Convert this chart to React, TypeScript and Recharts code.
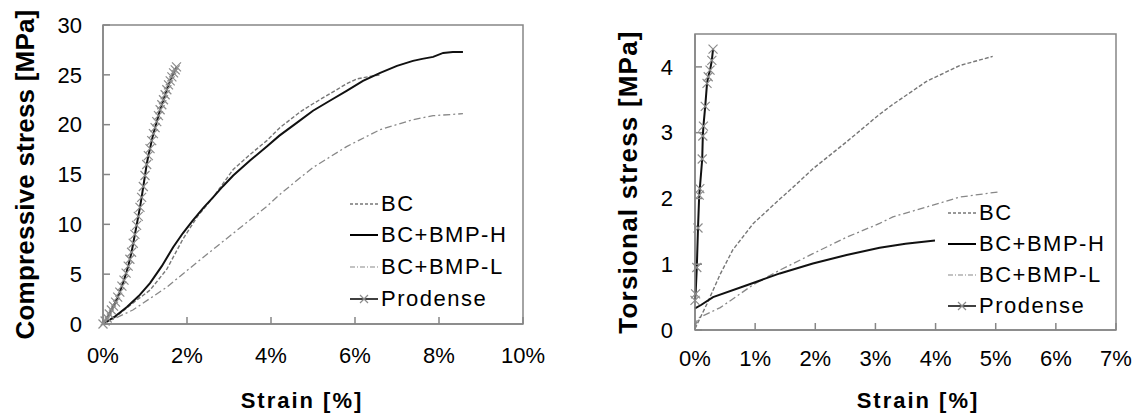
import { LineChart, Line, XAxis, YAxis, ReferenceArea, Legend } from "recharts";

const FONT = "'Liberation Sans', Arial, sans-serif";
const AXIS = "#868686";

// ---- compressive test: [strain %, stress MPa]
const compBC = [
  [0, 0], [0.3, 0.7], [0.71, 2.1], [1.12, 3.4], [1.52, 5.5], [1.9, 8.5], [2.25, 10.8],
  [2.62, 12.7], [3.1, 15.5], [3.5, 17.0], [3.9, 18.4], [4.21, 19.7], [4.7, 21.3],
  [5.0, 22.1], [5.4, 23.1], [5.8, 24.1], [6.05, 24.6], [6.3, 24.8], [6.6, 25.0],
];
const compBMPH = [
  [0, 0], [0.3, 0.8], [0.57, 1.7], [0.85, 2.8], [1.12, 4.1], [1.4, 5.8], [1.67, 7.7],
  [1.9, 9.1], [2.14, 10.4], [2.4, 11.7], [2.62, 12.7], [2.85, 13.8], [3.1, 14.9],
  [3.5, 16.4], [3.9, 17.8], [4.2, 18.9], [4.62, 20.2], [5.0, 21.4], [5.4, 22.4],
  [5.8, 23.4], [6.19, 24.4], [6.6, 25.2], [7.0, 25.9], [7.38, 26.4], [7.6, 26.6],
  [7.86, 26.8], [8.1, 27.2], [8.33, 27.3], [8.57, 27.3],
];
const compBMPL = [
  [0, 0], [0.71, 1.4], [1.52, 3.7], [2.3, 6.4], [3.1, 9.1], [3.9, 11.8], [4.21, 13.0],
  [4.7, 14.7], [5.0, 15.7], [5.8, 17.8], [6.6, 19.5], [7.38, 20.5], [7.86, 20.9], [8.57, 21.1],
];
const compProdense = [
  [0, 0], [0.05, 0.3], [0.1, 0.6], [0.15, 1.0], [0.2, 1.4], [0.25, 1.8], [0.3, 2.2],
  [0.35, 2.7], [0.4, 3.2], [0.45, 3.8], [0.5, 4.4], [0.55, 5.1], [0.6, 5.8], [0.64, 6.5],
  [0.68, 7.2], [0.72, 8.1], [0.76, 9.0], [0.8, 9.9], [0.84, 10.8], [0.88, 11.7],
  [0.92, 12.7], [0.96, 13.8], [1.0, 14.9], [1.04, 16.0], [1.08, 16.9], [1.12, 17.6],
  [1.16, 18.4], [1.2, 19.1], [1.24, 19.7], [1.28, 20.3], [1.32, 20.9], [1.36, 21.5],
  [1.4, 22.0], [1.44, 22.5], [1.48, 23.0], [1.52, 23.5], [1.56, 24.0], [1.6, 24.4],
  [1.64, 24.8], [1.68, 25.2], [1.72, 25.5], [1.75, 25.8],
];

// ---- torsional test: [strain %, stress MPa]
const torsBC = [
  [0, 0.02], [0.2, 0.4], [0.42, 0.85], [0.63, 1.22], [0.97, 1.62], [1.41, 1.99],
  [1.69, 2.22], [1.96, 2.45], [2.52, 2.86], [3.07, 3.28], [3.29, 3.43], [3.85, 3.78],
  [4.4, 4.02], [4.95, 4.16],
];
const torsBMPH = [
  [0, 0.33], [0.1, 0.38], [0.3, 0.5], [0.86, 0.68], [1.41, 0.86], [1.96, 1.01],
  [2.52, 1.14], [3.07, 1.25], [3.5, 1.31], [3.99, 1.36],
];
const torsBMPL = [
  [0, 0.05], [0.05, 0.18], [0.42, 0.34], [0.97, 0.69], [1.41, 0.91], [1.96, 1.16],
  [2.52, 1.41], [3.07, 1.62], [3.29, 1.72], [3.85, 1.87], [4.4, 2.02], [5.05, 2.1],
];
const torsProdense = [
  [0, 0.45], [0.01, 0.55], [0.03, 0.95], [0.05, 1.55], [0.07, 2.05], [0.08, 2.15],
  [0.12, 2.6], [0.13, 2.95], [0.14, 3.1], [0.17, 3.4], [0.2, 3.75], [0.22, 3.85],
  [0.25, 3.95], [0.28, 4.1], [0.3, 4.27],
];

const SERIES_NAMES = ["BC", "BC+BMP-H", "BC+BMP-L", "Prodense"];
const compXTicks = [0, 2, 4, 6, 8, 10];
const compYTicks = [0, 5, 10, 15, 20, 25, 30];
const torsXTicks = [0, 1, 2, 3, 4, 5, 6, 7];
const torsYTicks = [0, 1, 2, 3, 4];

const toPts = (rows: number[][]) => rows.map(([x, y]) => ({ x, y }));

const tickStyle = { fontSize: 22, fill: "#000", fontFamily: FONT };
const lineStyle = { stroke: AXIS, strokeWidth: 1.5 };

const xMark = (props: any) => {
  const { cx, cy, index } = props;
  const s = 4.5;
  return (
    <path
      key={`m${index}`}
      d={`M${cx - s},${cy - s}L${cx + s},${cy + s}M${cx - s},${cy + s}L${cx + s},${cy - s}`}
      stroke="#8c8c8c"
      strokeWidth={1.2}
      fill="none"
    />
  );
};

function LegendIcon({ i }: { i: number }) {
  if (i === 0) return <line x1={0} y1={10} x2={28} y2={10} stroke="#777" strokeWidth={1.3} strokeDasharray="3 2" />;
  if (i === 1) return <line x1={0} y1={10} x2={28} y2={10} stroke="#000" strokeWidth={2} />;
  if (i === 2) return <line x1={0} y1={10} x2={28} y2={10} stroke="#888" strokeWidth={1.2} strokeDasharray="5 2 1 2" />;
  return (
    <g>
      <line x1={0} y1={10} x2={28} y2={10} stroke="#000" strokeWidth={1.5} />
      <path d="M10,6L18,14M10,14L18,6" stroke="#8c8c8c" strokeWidth={1.2} />
    </g>
  );
}

function LegendBox({ row }: { row: number }) {
  return (
    <div style={{ fontFamily: FONT, fontSize: 22, letterSpacing: 1.5, color: "#000" }}>
      {SERIES_NAMES.map((n, i) => (
        <div key={n} style={{ display: "flex", alignItems: "center", height: row, whiteSpace: "nowrap" }}>
          <svg width={30} height={20} style={{ marginRight: 1 }}>
            <LegendIcon i={i} />
          </svg>
          <span>{n}</span>
        </div>
      ))}
    </div>
  );
}

const yTitle = (text: string, cxOff: number, size: number, spacing: number) => (props: any) => {
  const vb = props.viewBox;
  const cx = vb.x + cxOff;
  const cy = vb.y + vb.height / 2;
  return (
    <text
      x={cx}
      y={cy}
      transform={`rotate(-90, ${cx}, ${cy})`}
      textAnchor="middle"
      dominantBaseline="central"
      fontFamily={FONT}
      fontSize={size}
      fontWeight="bold"
      letterSpacing={spacing}
      fill="#000"
    >
      {text}
    </text>
  );
};

const xTitle = (text: string, cxOff: number, baseOff: number) => (props: any) => {
  const vb = props.viewBox;
  return (
    <text
      x={vb.x + cxOff}
      y={vb.y + baseOff}
      textAnchor="middle"
      fontFamily={FONT}
      fontSize={22}
      fontWeight="bold"
      letterSpacing={2}
      fill="#000"
    >
      {text}
    </text>
  );
};

export default function App() {
  return (
    <div style={{ position: "absolute", left: 0, top: 0, width: 1143, height: 418, background: "#fff" }}>
      <div style={{ position: "absolute", left: 0, top: 0 }}>
        <LineChart width={560} height={418} margin={{ top: 25, right: 37, bottom: 0, left: 0 }}>
          <XAxis
            type="number"
            dataKey="x"
            domain={[0, 10]}
            ticks={compXTicks}
            tickFormatter={(v: number) => `${v}%`}
            height={94}
            tickSize={-7}
            tickMargin={30}
            tick={tickStyle}
            axisLine={lineStyle}
            tickLine={lineStyle}
            label={{ content: xTitle("Strain [%]", 199, 84) }}
          />
          <YAxis
            type="number"
            dataKey="y"
            domain={[0, 30]}
            ticks={compYTicks}
            width={103}
            tickSize={-7}
            tickMargin={28}
            tick={tickStyle}
            axisLine={lineStyle}
            tickLine={lineStyle}
            label={{ content: yTitle("Compressive stress [MPa]", 25, 26, 0.2) }}
          />
          <ReferenceArea x1={0} x2={10} y1={0} y2={30} fill="none" stroke={AXIS} strokeWidth={1.5} />
          <Line data={toPts(compBMPL)} dataKey="y" stroke="#888" strokeWidth={1.3} strokeDasharray="7 3 2 3" dot={false} isAnimationActive={false} />
          <Line data={toPts(compBC)} dataKey="y" stroke="#777" strokeWidth={1.4} strokeDasharray="4 2" dot={false} isAnimationActive={false} />
          <Line data={toPts(compBMPH)} dataKey="y" stroke="#111" strokeWidth={2} dot={false} isAnimationActive={false} />
          {/* Prodense: grey x markers, then the black line on top */}
          <Line data={toPts(compProdense)} dataKey="y" stroke="none" dot={xMark} isAnimationActive={false} />
          <Line data={toPts(compProdense)} dataKey="y" stroke="#111" strokeWidth={2} dot={false} isAnimationActive={false} />
          <Legend
            layout="vertical"
            align="center"
            verticalAlign="middle"
            wrapperStyle={{ left: 350, top: 188 }}
            content={() => <LegendBox row={31.6} />}
          />
        </LineChart>
      </div>
      <div style={{ position: "absolute", left: 560, top: 0 }}>
        <LineChart width={583} height={418} margin={{ top: 34, right: 27, bottom: 0, left: 0 }}>
          <XAxis
            type="number"
            dataKey="x"
            domain={[0, 7]}
            ticks={torsXTicks}
            tickFormatter={(v: number) => `${v}%`}
            height={88}
            tickSize={-7}
            tickMargin={27}
            tick={tickStyle}
            axisLine={lineStyle}
            tickLine={lineStyle}
            label={{ content: xTitle("Strain [%]", 223, 78) }}
          />
          <YAxis
            type="number"
            dataKey="y"
            domain={[0, 4.5]}
            ticks={torsYTicks}
            width={135}
            tickSize={-7}
            tickMargin={29}
            tick={tickStyle}
            axisLine={lineStyle}
            tickLine={lineStyle}
            label={{ content: yTitle("Torsional stress [MPa]", 68, 26, 1.2) }}
          />
          <ReferenceArea x1={0} x2={7} y1={0} y2={4.5} fill="none" stroke={AXIS} strokeWidth={1.5} />
          <Line data={toPts(torsBMPL)} dataKey="y" stroke="#888" strokeWidth={1.3} strokeDasharray="7 3 2 3" dot={false} isAnimationActive={false} />
          <Line data={toPts(torsBC)} dataKey="y" stroke="#777" strokeWidth={1.4} strokeDasharray="4 2" dot={false} isAnimationActive={false} />
          <Line data={toPts(torsBMPH)} dataKey="y" stroke="#111" strokeWidth={2} dot={false} isAnimationActive={false} />
          <Line data={toPts(torsProdense)} dataKey="y" stroke="none" dot={xMark} isAnimationActive={false} />
          <Line data={toPts(torsProdense)} dataKey="y" stroke="#111" strokeWidth={2} dot={false} isAnimationActive={false} />
          <Legend
            layout="vertical"
            align="center"
            verticalAlign="middle"
            wrapperStyle={{ left: 388, top: 197 }}
            content={() => <LegendBox row={31} />}
          />
        </LineChart>
      </div>
    </div>
  );
}
